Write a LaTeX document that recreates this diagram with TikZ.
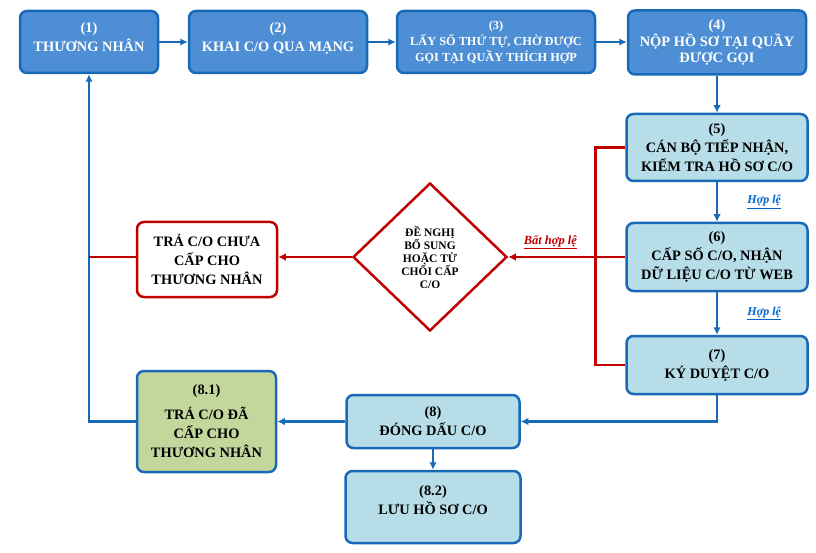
\documentclass[tikz,border=0pt]{standalone}
\usepackage{fontspec}
\setmainfont{Liberation Serif}
\usetikzlibrary{shapes.geometric,arrows.meta}

\definecolor{stepblue}{RGB}{77,142,212}
\definecolor{edgeblue}{RGB}{24,106,184}
\definecolor{lightblue}{RGB}{183,222,232}
\definecolor{okgreen}{RGB}{195,214,155}
\definecolor{nored}{RGB}{192,0,0}
\definecolor{linkblue}{RGB}{0,102,204}

\tikzset{
  box/.style={draw=edgeblue, line width=2.5pt, rounded corners=7pt, align=center,
    inner sep=2pt, font=\bfseries\fontsize{14.4}{19}\selectfont},
  darkbox/.style={box, fill=stepblue, text=white},
  lightbox/.style={box, fill=lightblue, text=black},
  greenbox/.style={box, fill=okgreen},
  redbox/.style={box, draw=nored, fill=white},
  decision/.style={diamond, aspect=1, draw=nored, fill=white, line width=2.5pt,
    inner sep=0pt, align=center, font=\bfseries\fontsize{11.5}{13}\selectfont},
  tip/.style={-{Latex[length=7.5pt,width=7.5pt]}},
  flow/.style={draw=edgeblue, line width=2.3pt, tip},
  rejflow/.style={draw=nored, line width=2.8pt},
  oklabel/.style={text=linkblue, font=\bfseries\itshape\fontsize{12}{14}\selectfont},
  nolabel/.style={text=nored, font=\bfseries\itshape\fontsize{12.5}{14}\selectfont}
}

\begin{document}
\begin{tikzpicture}[x=1pt, y=-1pt]
	\useasboundingbox (0,0) rectangle (816,553);

	% steps on the top row
	\node[darkbox, minimum width=138pt, minimum height=62pt, text depth=10pt] (trader) at (89,42) {(1)\\THƯƠNG NHÂN};
	\node[darkbox, minimum width=178pt, minimum height=62pt, text depth=10pt] (declare) at (278,42) {(2)\\KHAI C/O QUA MẠNG};
	\node[darkbox, minimum width=198pt, minimum height=62pt, font=\bfseries\fontsize{12.3}{16}\selectfont] (queue) at (496,42) {(3)\\LẤY SỐ THỨ TỰ, CHỜ ĐƯỢC\\GỌI TẠI QUẦY THÍCH HỢP};
	\node[darkbox, minimum width=178pt, minimum height=64pt, font=\bfseries\fontsize{14.4}{16.8}\selectfont] (submit) at (717,42.5) {(4)\\NỘP HỒ SƠ TẠI QUẦY\\ĐƯỢC GỌI};

	% checking column
	\node[lightbox, minimum width=181pt, minimum height=67pt] (check) at (717,147.5) {(5)\\CÁN BỘ TIẾP NHẬN,\\KIỂM TRA HỒ SƠ C/O};
	\node[lightbox, minimum width=181pt, minimum height=68pt] (number) at (717,257) {(6)\\CẤP SỐ C/O, NHẬN\\DỮ LIỆU C/O TỪ WEB};
	\node[lightbox, minimum width=181pt, minimum height=58pt] (sign) at (717,365) {(7)\\KÝ DUYỆT C/O};

	% bottom steps
	\node[lightbox, minimum width=173pt, minimum height=53pt] (stamp) at (433,421.5) {(8)\\ĐÓNG DẤU C/O};
	\node[lightbox, minimum width=175pt, minimum height=72pt, text depth=14pt] (archive) at (433,507) {(8.2)\\LƯU HỒ SƠ C/O};
	\node[greenbox, minimum width=139pt, minimum height=101pt] (handout) at (206.5,421.5) {(8.1)\\[6pt]TRẢ C/O ĐÃ\\CẤP CHO\\THƯƠNG NHÂN};

	% rejected branch
	\node[decision, minimum width=154pt, minimum height=148pt] (ask) at (430,257) {ĐỀ NGHỊ\\BỔ SUNG\\HOẶC TỪ\\CHỐI CẤP\\C/O};
	\node[redbox, minimum width=140pt, minimum height=75pt] (giveback) at (207,259.5) {TRẢ C/O CHƯA\\CẤP CHO\\THƯƠNG NHÂN};

	\draw[flow] (trader) -- (declare);
	\draw[flow] (declare) -- (queue);
	\draw[flow] (queue.east) -- (submit.west|-queue.east);
	\draw[flow] (submit) -- (check);
	\draw[flow] (check) -- node[oklabel, right=26pt]{\underline{Hợp lệ}} (number);
	\draw[flow] (number) -- node[oklabel, right=26pt]{\underline{Hợp lệ}} (sign);
	\draw[flow] (sign.south) |- (stamp.east);
	\draw[flow] (stamp) -- (handout);
	\draw[flow] (stamp) -- (archive);
	\draw[flow] (handout.west) -| (trader.south);

	\draw[rejflow] (check.west) -- ++(-30,0) |- (sign.west);
	\draw[rejflow, tip] (number.west) -- node[nolabel, pos=0.64, above=3pt]{\underline{Bất hợp lệ}} (ask.east);
	\draw[rejflow, tip] (ask.west) -- (giveback.east|-ask.west);
	\draw[rejflow] (giveback.west|-ask.west) -- (trader.south|-ask.west);
\end{tikzpicture}
\end{document}
